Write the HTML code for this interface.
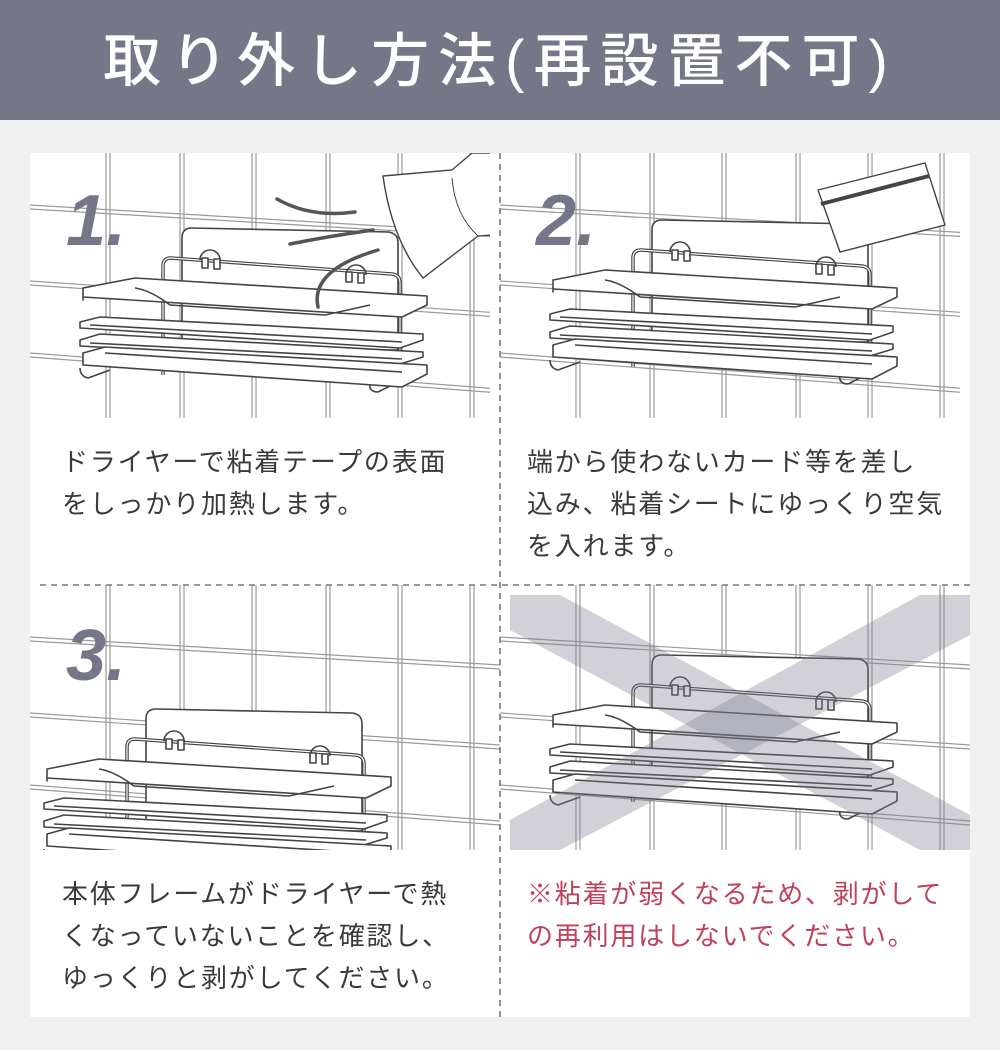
<!DOCTYPE html>
<html><head><meta charset="utf-8"><style>
body{margin:0;width:1000px;height:1050px;background:#f0f0f0;position:relative;overflow:hidden;font-family:"Liberation Sans","Noto Sans CJK JP",sans-serif}
.hd{position:absolute;left:0;top:0;width:1000px;height:120px;background:#757789;color:#fff;font-size:58px;text-align:center;line-height:124px;letter-spacing:9px;font-weight:500}
.panel{position:absolute;left:30px;top:153px;width:940px;height:864px;background:#fff}
.t{position:absolute;font-size:26px;line-height:42px;color:#3a3a3a;letter-spacing:1.8px;white-space:nowrap}
.num{font-family:"Liberation Sans",sans-serif;font-style:italic;font-weight:bold;fill:#757789;font-size:72px}
</style></head><body>
<div class="hd">取り外し方法(再設置不可)</div>
<div class="panel"></div>
<svg width="1000" height="1050" style="position:absolute;left:0;top:0">
<defs>
<g id="tiles" fill="none" stroke="#9a9a9a" stroke-width="1.2">
 <path d="M76,0V270M80,0V270M150,0V270M154,0V270M222,0V270M226,0V270M296,0V270M300,0V270M368,0V270M372,0V270M440,0V270M444,0V270"/>
 <path d="M0,52L470,80M0,56L470,84M0,128L470,160M0,132L470,164M0,200L470,236M0,204L470,240"/>
</g>
<g id="shelf" fill="#fff" stroke="#444" stroke-width="1.6" stroke-linejoin="round">
 <path d="M152,88Q152,78 162,78L358,82Q368,83 368,93L368,200L152,200Z"/>
 <path d="M133,225V116Q133,108 141,108L362,124Q370,125 370,133V232" fill="none" stroke-width="3.5"/>
 <path d="M133,225V116Q133,108 141,108L362,124Q370,125 370,133V232" fill="none" stroke="#fff" stroke-width="1.2"/>
 <path d="M170,110A10,10 0 0 1 190,110" fill="none"/><path d="M316,125A10,10 0 0 1 336,125" fill="none"/>
 <rect x="172" y="108" width="6" height="10" fill="#fff"/><rect x="184" y="109" width="6" height="10" fill="#fff"/>
 <rect x="316" y="122" width="6" height="10" fill="#fff"/><rect x="328" y="123" width="6" height="10" fill="#fff"/>
 <path d="M50,218Q50,226 58,228L80,220" fill="none"/><path d="M340,232Q338,242 348,242L360,236" fill="none"/>
 <path d="M53,150L53,138L105,128L397,146L397,155L372,167L53,147Z"/>
 <path d="M105,138Q120,140 140,155L295,165L340,155" fill="none"/>
 <path d="M50,172L70,167L393,184L393,190L370,198L50,178Z"/>
 <path d="M60,175L372,192" fill="none"/>
 <path d="M50,190L70,184L393,202L393,207L370,214L50,196Z"/>
 <path d="M60,193L372,209" fill="none"/>
 <path d="M53,203L75,197L397,215L397,224L372,237L53,215Z"/>
 <path d="M75,203L372,222" fill="none"/>
</g>
<clipPath id="c1"><rect x="0" y="0" width="460" height="265"/></clipPath>
<clipPath id="c3"><rect x="0" y="0" width="470" height="265"/></clipPath>
<clipPath id="p1"><rect x="30" y="153" width="460" height="265"/></clipPath>
</defs>
<g transform="translate(30,153)" clip-path="url(#c1)"><use href="#tiles"/><use href="#shelf" transform="translate(0,-3)"/></g>
<g clip-path="url(#p1)">
 <path d="M383,176L452,170L472,153L492,153L492,235L478,236L423,278Q392,240 383,176Z" fill="#fff" stroke="#444" stroke-width="1.4"/>
 <path d="M452,178Q455,215 478,236" fill="none" stroke="#444" stroke-width="1"/>
 <g fill="none" stroke="#555" stroke-width="3.5" stroke-linecap="round"><path d="M277,199Q310,218 355,212"/><path d="M290,244Q330,236 373,230"/><path d="M378,250Q310,270 318,307"/></g>
</g>
<text class="num" x="66" y="245">1.</text>
<g transform="translate(500,153)" clip-path="url(#c1)"><use href="#tiles"/><use href="#shelf" transform="translate(0,-11)"/></g>
<polygon points="818,190,925,163,945,225,840,252" fill="#fff" stroke="#444" stroke-width="1.4"/>
<path d="M821,204L929,176" stroke="#444" stroke-width="4"/>
<text class="num" x="536" y="245">2.</text>
<g transform="translate(30,585)"><g clip-path="url(#c3)"><use href="#tiles"/><use href="#shelf" transform="translate(-36,46)"/></g></g>
<text class="num" x="66" y="680">3.</text>
<g transform="translate(500,585)"><g clip-path="url(#c3)"><use href="#tiles"/><use href="#shelf" transform="translate(0,-8)"/>
 <path d="M10,10L60,10L470,230L470,265L420,265L10,45Z" fill="#7a7a8c" opacity=".35"/>
 <path d="M470,10L470,50L60,265L10,265L10,235L420,10Z" fill="#7a7a8c" opacity=".35"/></g></g>
<path d="M500,153V1017" stroke="#757789" stroke-width="1.6" stroke-dasharray="6,5"/>
<path d="M40,585H970" stroke="#757789" stroke-width="1.6" stroke-dasharray="6,5"/>
</svg>
<div class="t" style="left:62px;top:441px">ドライヤーで粘着テープの表面<br>をしっかり加熱します。</div>
<div class="t" style="left:527px;top:441px">端から使わないカード等を差し<br>込み、粘着シートにゆっくり空気<br>を入れます。</div>
<div class="t" style="left:62px;top:873px">本体フレームがドライヤーで熱<br>くなっていないことを確認し、<br>ゆっくりと剥がしてください。</div>
<div class="t" style="left:527px;top:873px;color:#c0405a">※粘着が弱くなるため、剥がして<br>の再利用はしないでください。</div>
</body></html>
